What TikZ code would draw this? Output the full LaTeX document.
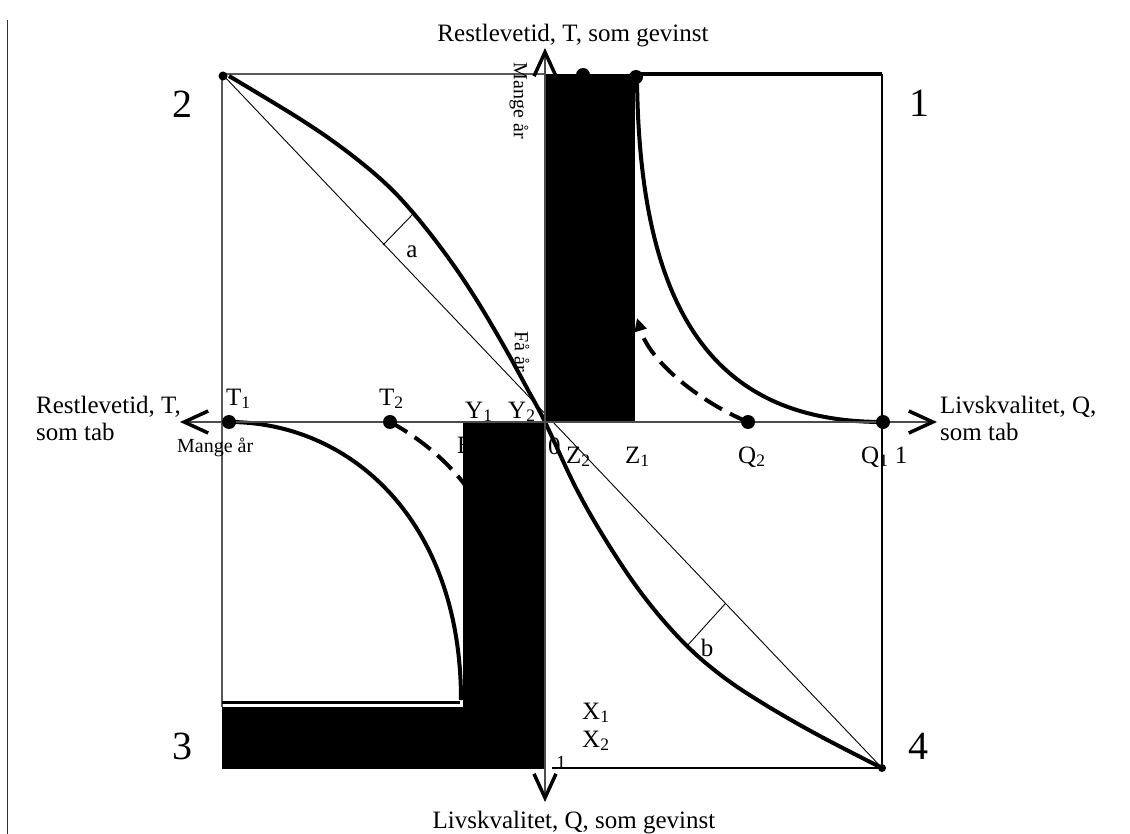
\documentclass[tikz,border=0pt]{standalone}
\usepackage{fontspec}
\setmainfont{Liberation Serif}
\usetikzlibrary{arrows.meta}
\begin{document}
\begin{tikzpicture}[x=1pt,y=-1pt,
  frameline/.style={draw=black!65, line width=1.3pt},
  thinline/.style={draw=black, line width=0.9pt},
  thickcurve/.style={draw=black, line width=4pt},
  dashcurve/.style={draw=black, line width=4pt, dash pattern=on 20pt off 9pt},
  blackbox/.style={fill=black, draw=none},
  dot/.style={circle, fill=black, inner sep=0pt, minimum size=14pt},
  smalldot/.style={circle, fill=black, inner sep=0pt, minimum size=9pt},
  lab/.style={font=\fontsize{25}{28}\selectfont, inner sep=0pt},
  smalllab/.style={font=\fontsize{20}{22}\selectfont, inner sep=0pt},
  biglab/.style={font=\fontsize{40}{44}\selectfont, inner sep=0pt},
  axarrow/.style={draw=black!70, line width=1.1pt, -{Straight Barb[length=24pt,width=22pt,line width=3.5pt,color=black]}}
]
\useasboundingbox (0,0) rectangle (1130,834);

% key points
\coordinate (O) at (545,422);
\coordinate (TL) at (222,74);
\coordinate (TR) at (882,74);
\coordinate (BR) at (882,768);
\coordinate (BL) at (222,707);
\coordinate (TM) at (545,74);
\coordinate (BM) at (552,768);
\coordinate (TK) at (636,74);
\coordinate (Ltop) at (7,20);
\coordinate (Lbot) at (7,834);

% left page line
\draw[thinline, draw=black!80] (Ltop) -- (Lbot);

% frame
\draw[frameline] (TL) -- (TM);
\draw[frameline] (TL) -- (BL);
\draw[frameline, draw=black] (TR) -- (BR);
\draw[frameline, draw=black] (BM) -- (BR);
\draw[draw=black, line width=4pt] (TK) -- (TR);

% diagonal
\draw[thinline] (TL) -- (BR);

% a and b markers
\coordinate (a1) at (383,245);
\coordinate (a2) at (414,213);
\coordinate (b1) at (725,604);
\coordinate (b2) at (687,646);
\draw[thinline] (a1) -- (a2);
\draw[thinline] (b1) -- (b2);

% main S curve
\coordinate (Sstart) at (229,76);
\draw[thickcurve] plot[smooth, tension=0.6] coordinates {(Sstart) (300,119) (345,150) (385,183) (415,215) (447,256) (476,299) (505,348) (528,390) (O) (577,490) (610,547) (645,598) (684,643) (722,676) (764,704) (818,735) (BR)};

% quadrant 1 curve
\coordinate (Q1) at (883,422);
\coordinate (Q2) at (748,422);
\coordinate (T1) at (229,422);
\coordinate (T2) at (390,422);
\coordinate (Z1c) at (637,77);
\coordinate (Q3end) at (461,700);
\draw[thickcurve] (Z1c) .. controls (639,320) and (720,422) .. (Q1);
% quadrant 3 curve
\draw[thickcurve] (T1) .. controls (350,422) and (461,520) .. (Q3end);

% dashed curves
\coordinate (dq1) at (637,318);
\draw[dashcurve, -{Triangle[length=13pt,width=12pt]}] (Q2) .. controls (700,402) and (650,362) .. (dq1);
\coordinate (dq3) at (478,505);
\draw[dashcurve] (T2) .. controls (420,438) and (458,468) .. (dq3);

% hidden letter
\node[lab, anchor=base west] (Bl) at (457,453) {B};

% black regions
\fill[blackbox] (545,74) rectangle (635,422);
\fill[blackbox] (463,422) rectangle (545,707);
\fill[blackbox] (222,707) rectangle (545,769);
\draw[draw=black, line width=3pt] (222,702) -- (460,702);

% axes
\coordinate (AxL) at (180,422);
\coordinate (AxR) at (937,422);
\coordinate (AxT) at (545,48);
\coordinate (AxB) at (545,802);
\draw[axarrow] (O) -- (AxL);
\draw[axarrow] (O) -- (AxR);
\draw[axarrow] (O) -- (AxT);
\draw[axarrow] (O) -- (AxB);

% dots
\node[smalldot] (dTL) at (223,76) {};
\node[dot] (dTa) at (583,75) {};
\node[dot] (dTb) at (636,77) {};
\node[dot] (dT1) at (T1) {};
\node[dot] (dT2) at (T2) {};
\node[dot] (dQ2) at (Q2) {};
\node[dot] (dQ1) at (Q1) {};
\node[smalldot, minimum size=8pt] (dBR) at (BR) {};

% axis titles
\node[lab, anchor=base] (ttop) at (573,42) {Restlevetid, T, som gevinst};
\node[lab, anchor=base] (tbot) at (574,828) {Livskvalitet, Q, som gevinst};
\node[lab, anchor=base west] (tl1) at (36,413) {Restlevetid, T,};
\node[lab, anchor=base west] (tl2) at (36,440) {som tab};
\node[lab, anchor=base west] (tr1) at (940,413) {Livskvalitet, Q,};
\node[lab, anchor=base west] (tr2) at (940,440) {som tab};

% quadrant numbers
\node[biglab, anchor=base] (n2) at (182,118) {2};
\node[biglab, anchor=base] (n1) at (919,117) {1};
\node[biglab, anchor=base] (n3) at (182,759) {3};
\node[biglab, anchor=base] (n4) at (918,759) {4};

% small texts
\node[smalllab, rotate=-90] (mangetop) at (519,101) {Mange år};
\node[smalllab, rotate=-90] (faar) at (522,352) {Få år};
\node[smalllab, anchor=base west] (mangeleft) at (177,452) {Mange år};

% point labels
\node[lab, anchor=base west] (lT1) at (226,405) {T\textsubscript{1}};
\node[lab, anchor=base west] (lT2) at (379,405) {T\textsubscript{2}};
\node[lab, anchor=base west] (lY1) at (465,418) {Y\textsubscript{1}};
\node[lab, anchor=base west] (lY2) at (508,418) {Y\textsubscript{2}};
\node[lab, anchor=base west] (l0) at (548,454) {0};
\node[lab, anchor=base west] (lZ2) at (566,463) {Z\textsubscript{2}};
\node[lab, anchor=base west] (lZ1) at (625,463) {Z\textsubscript{1}};
\node[lab, anchor=base west] (lQ2) at (738,463) {Q\textsubscript{2}};
\node[lab, anchor=base west] (lQ1) at (861,463) {Q\textsubscript{1} 1};
\node[lab, anchor=base west] (lX1) at (582,719) {X\textsubscript{1}};
\node[lab, anchor=base west] (lX2) at (582,747) {X\textsubscript{2}};
\node[smalllab, anchor=base west] (lone) at (556,769) {1};
\node[lab] (la) at (412,252) {a};
\node[lab] (lb) at (707,648) {b};
\end{tikzpicture}
\end{document}
